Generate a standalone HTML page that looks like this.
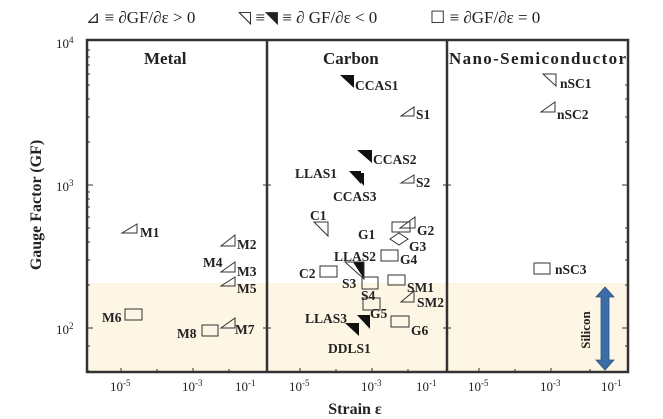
<!DOCTYPE html><html><head><style>body{margin:0;background:#fff}svg{display:block}text{font-family:"Liberation Serif",serif;font-weight:bold;fill:#222}</style></head><body>
<svg width="663" height="419" viewBox="0 0 663 419">
<rect x="87" y="283" width="541" height="89" fill="#fdf6e4"/>
<g font-size="17">
<text x="86" y="23" style="font-weight:normal">⊿ ≡ ∂GF/∂ε &gt; 0</text>
<text x="238" y="23" style="font-weight:normal">◹ ≡◥ ≡ ∂ GF/∂ε &lt; 0</text>
<text x="430" y="23" style="font-weight:normal">☐ ≡ ∂GF/∂ε = 0</text>
</g>
<g stroke="#333" fill="none" stroke-width="2.5">
<rect x="87" y="40" width="541" height="332"/>
<line x1="267" y1="40" x2="267" y2="372"/><line x1="447" y1="40" x2="447" y2="372"/>
</g>
<g stroke="#333" stroke-width="1">
<path d="M87 185h6M87 328h6M87 142h3M87 117h3M87 99h3M87 85h3M87 74h3M87 65h3M87 57h3M87 50h3M87 285h3M87 260h3M87 242h3M87 228h3M87 217h3M87 207h3M87 199h3M87 192h3M87 371h3M87 346h3M628 185h-6M628 328h-6M628 142h-3M628 117h-3M628 99h-3M628 85h-3M628 285h-3M628 260h-3M628 242h-3M628 228h-3M628 346h-3M267 185h-4M267 328h-4M267 185h4M267 328h4M447 185h-4M447 328h-4M447 185h4M447 328h4"/>
<path d="M121 372v-4M157 372v-3M193 372v-4M229 372v-3M300 372v-4M336 372v-3M372 372v-4M408 372v-3M479 372v-4M515 372v-3M551 372v-4M590 372v-3"/>
</g>
<g font-size="13">
<text x="56" y="48" style="font-weight:normal">10<tspan font-size="9" dy="-5">4</tspan></text>
<text x="56" y="191" style="font-weight:normal">10<tspan font-size="9" dy="-5">3</tspan></text>
<text x="56" y="334" style="font-weight:normal">10<tspan font-size="9" dy="-5">2</tspan></text>
<text x="110" y="391" style="font-weight:normal">10<tspan font-size="9" dy="-5">-5</tspan></text>
<text x="182" y="391" style="font-weight:normal">10<tspan font-size="9" dy="-5">-3</tspan></text>
<text x="235" y="391" style="font-weight:normal">10<tspan font-size="9" dy="-5">-1</tspan></text>
<text x="289" y="391" style="font-weight:normal">10<tspan font-size="9" dy="-5">-5</tspan></text>
<text x="361" y="391" style="font-weight:normal">10<tspan font-size="9" dy="-5">-3</tspan></text>
<text x="416" y="391" style="font-weight:normal">10<tspan font-size="9" dy="-5">-1</tspan></text>
<text x="468" y="391" style="font-weight:normal">10<tspan font-size="9" dy="-5">-5</tspan></text>
<text x="540" y="391" style="font-weight:normal">10<tspan font-size="9" dy="-5">-3</tspan></text>
<text x="601" y="391" style="font-weight:normal">10<tspan font-size="9" dy="-5">-1</tspan></text>
</g>
<text x="355" y="414" font-size="16" text-anchor="middle">Strain ε</text>
<text transform="translate(41,205) rotate(-90)" font-size="16" text-anchor="middle">Gauge Factor (GF)</text>
<g font-size="17"><text x="144" y="64">Metal</text><text x="323" y="64">Carbon</text><text x="449" y="64" textLength="177">Nano-Semiconductor</text></g>
<g stroke="#333" stroke-width="1" fill="none">
<path d="M122 233h15v-9zM221 246h14v-11zM221 272h14v-10zM221 286h14v-9zM221 328h14v-10zM401 116h13v-9zM401 183h13v-8zM400 228h15v-11zM401 302h13v-11zM541 112h14v-10z"/>
<path d="M314 222h14v14zM543 74h13v12z"/>
<rect x="125" y="309" width="17" height="11"/><rect x="202" y="325" width="16" height="11"/>
<rect x="392" y="222" width="18" height="10"/><rect x="381" y="250" width="17" height="11"/><rect x="320" y="266" width="17" height="11"/><rect x="362" y="277" width="16" height="12"/><rect x="388" y="275" width="17" height="10"/><rect x="363" y="298" width="17" height="12"/><rect x="391" y="316" width="18" height="11"/><rect x="534" y="263" width="16" height="11"/>
<path d="M399 233l9 6-9 6-9-6z"/>
</g>
<g fill="#111">
<path d="M340 75h14v13zM357 150h15v13zM349 171h12v13zM353 173h11v13zM357 315h13v14zM345 323h14v13z"/>
<path d="M353 262h11v17z"/>
</g>
<path d="M345 262h19v17z" fill="none" stroke="#333"/>
<g font-size="13.5">
<text x="140" y="237">M1</text><text x="237" y="249">M2</text><text x="203" y="267">M4</text><text x="237" y="276">M3</text><text x="237" y="293">M5</text><text x="102" y="322">M6</text><text x="177" y="338">M8</text><text x="235" y="334">M7</text>
<text x="355" y="90">CCAS1</text><text x="416" y="119">S1</text><text x="373" y="164">CCAS2</text><text x="295" y="178">LLAS1</text><text x="333" y="201">CCAS3</text><text x="416" y="187">S2</text>
<text x="310" y="220">C1</text><text x="358" y="239">G1</text><text x="417" y="235">G2</text><text x="409" y="251">G3</text><text x="334" y="261">LLAS2</text><text x="400" y="264">G4</text>
<text x="299" y="278">C2</text><text x="342" y="288">S3</text><text x="407" y="292">SM1</text><text x="361" y="300">S4</text><text x="417" y="307">SM2</text>
<text x="305" y="323">LLAS3</text><text x="370" y="318">G5</text><text x="411" y="335">G6</text><text x="328" y="353">DDLS1</text>
<text x="560" y="88">nSC1</text><text x="557" y="119">nSC2</text><text x="555" y="274">nSC3</text>
</g>
<path d="M605 287l-9 10h5v63h-5l9 10 9-10h-5v-63h5z" fill="#3d6da6" stroke="#2d5080" stroke-width="0.8"/>
<text transform="translate(590,330) rotate(-90)" font-size="13" text-anchor="middle">Silicon</text>
</svg></body></html>
